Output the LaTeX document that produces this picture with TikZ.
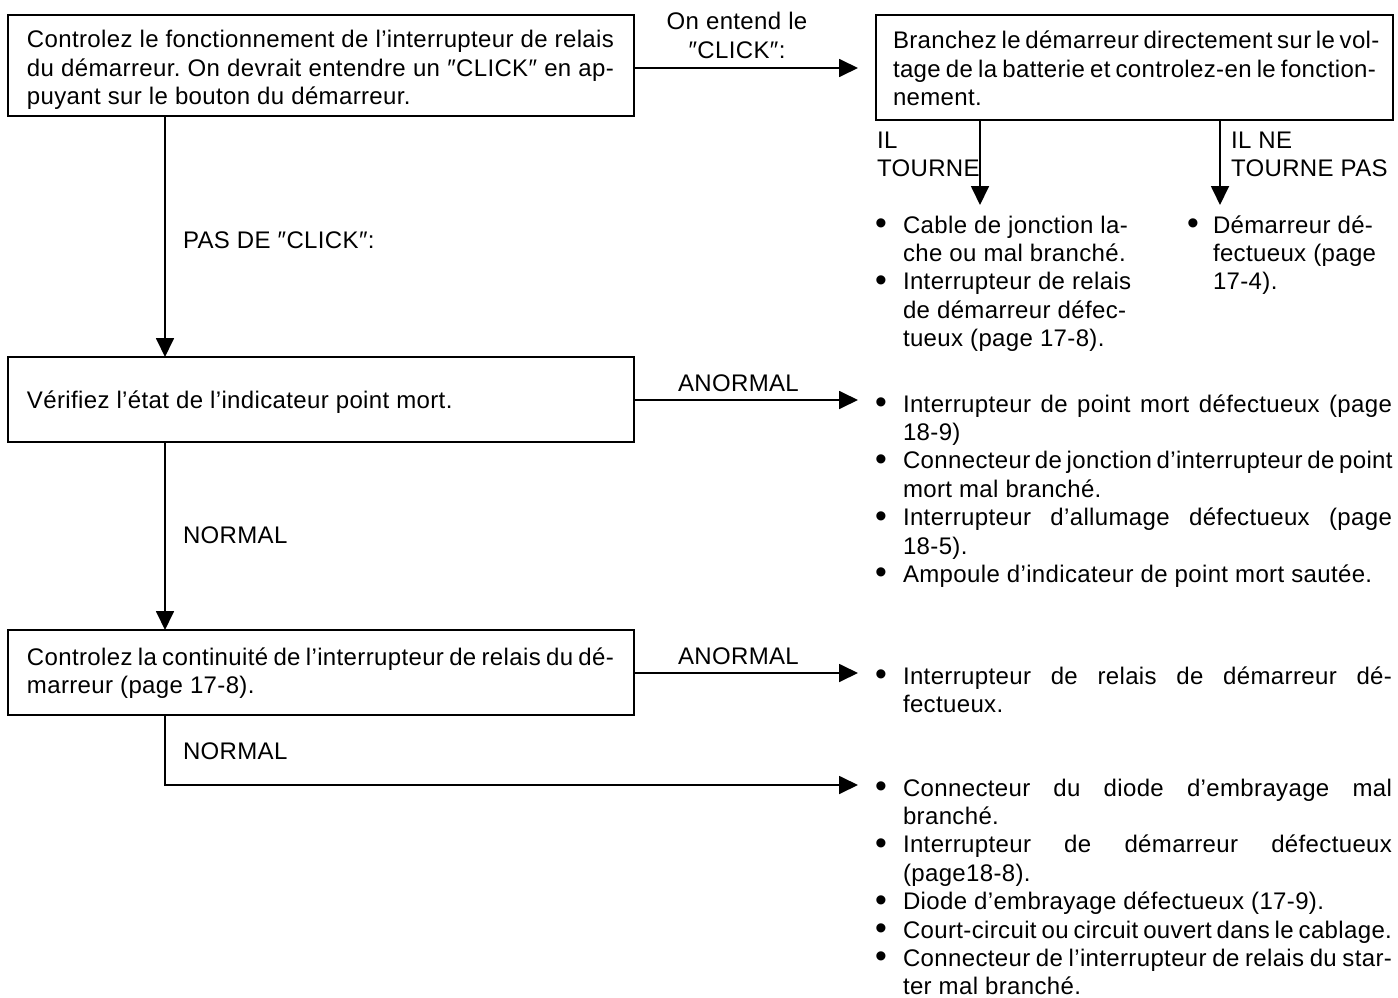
\documentclass[tikz,border=0pt]{standalone}
\usepackage{fontspec}
\setmainfont[LetterSpace=1.5]{Liberation Sans}
\usepackage{graphicx}
\usetikzlibrary{arrows.meta}
\frenchspacing
\newcommand\VL[1]{\vtop{\halign{##\hfil\cr#1\crcr}}}
\newcommand\VC[1]{\vtop{\halign{\hfil##\hfil\cr#1\crcr}}}
\newcommand\J[2]{\hbox to #1{#2}}
\newcommand\Bu[1][28pt]{\makebox[#1][l]{\raisebox{-1.5pt}{\scalebox{1.4}{\textbullet}}}}
\newcommand\In[1][28pt]{\hspace*{#1}}
\newcommand\Q{″}
\begin{document}
\begin{tikzpicture}[x=1pt,y=-1pt,
  font=\fontsize{24}{28.4}\selectfont,
  every node/.style={inner sep=0pt, outer sep=0pt},
  txt/.style={anchor=base west},
  ctxt/.style={anchor=base},
  boxst/.style={draw, line width=1.8pt, anchor=north west},
  arr/.style={line width=1.8pt, -{Triangle[length=19pt,width=18pt]}},
  ln/.style={line width=1.8pt}]
\useasboundingbox (0,0) rectangle (1398,998);
% boxes
\node[boxst, minimum width=626pt, minimum height=101pt] (b1) at (8,15) {};
\node[boxst, minimum width=517pt, minimum height=105pt] (b2) at (876,15) {};
\node[boxst, minimum width=626pt, minimum height=85pt] (b3) at (8,357) {};
\node[boxst, minimum width=626pt, minimum height=85pt] (b4) at (8,630) {};
% box texts
\node[txt] (t1) at (27,48) {\VL{\J{587pt}{Controlez le fonctionnement de l’interrupteur de relais}\cr
  \J{587pt}{du démarreur. On devrait entendre un \Q CLICK\Q{} en ap-}\cr
  puyant sur le bouton du démarreur.}};
\node[txt] (t2) at (893,49) {\VL{\J{483pt}{Branchez le démarreur directement sur le vol-}\cr
  \J{483pt}{tage de la batterie et controlez-en le fonction-}\cr
  nement.}};
\node[txt] (t3) at (27,408) {Vérifiez l’état de l’indicateur point mort.};
\node[txt] (t4) at (27,665) {\VL{\J{587pt}{Controlez la continuité de l’interrupteur de relais du dé-}\cr
  marreur (page 17-8).}};
% coordinates
\coordinate (vx) at (165,0);
\coordinate (e1) at (858,68);
\coordinate (e3) at (858,400);
\coordinate (e4) at (858,673);
\coordinate (e5) at (858,785);
\coordinate (ta) at (980,205);
\coordinate (tb) at (1220,205);
% connectors
\draw[arr] (b1.east |- e1) -- (e1);
\draw[arr] (b1.south -| vx) -- (b3.north -| vx);
\draw[arr] (b3.east |- e3) -- (e3);
\draw[arr] (b3.south -| vx) -- (b4.north -| vx);
\draw[arr] (b4.east |- e4) -- (e4);
\draw[arr] (b4.south -| vx) |- (e5);
\draw[arr] (b2.south -| ta) -- (ta);
\draw[arr] (b2.south -| tb) -- (tb);
% labels
\node[ctxt] (l1) at (737,30) {\VC{On entend le\cr \Q CLICK\Q:}};
\node[txt] (l2) at (183,248) {PAS DE \Q CLICK\Q:};
\node[txt] (l3) at (183,543) {NORMAL};
\node[txt] (l4) at (183,759) {NORMAL};
\node[txt] (l5) at (678,391) {ANORMAL};
\node[txt] (l6) at (678,664) {ANORMAL};
\node[txt] (l7) at (877,148) {\VL{IL\cr TOURNE}};
\node[txt] (l8) at (1231,148) {\VL{IL NE\cr TOURNE PAS}};
% lists
\node[txt] (la) at (875,233) {\VL{\Bu Cable de jonction la-\cr
  \In che ou mal branché.\cr
  \Bu Interrupteur de relais\cr
  \In de démarreur défec-\cr
  \In tueux (page 17-8).}};
\node[txt] (lb) at (1187,233) {\VL{\Bu[26pt]Démarreur dé-\cr
  \In[26pt]fectueux (page\cr
  \In[26pt]17-4).}};
\node[txt] (lc) at (875,412) {\VL{\J{517pt}{\Bu Interrupteur de point mort défectueux (page}\cr
  \In 18-9)\cr
  \J{517pt}{\Bu Connecteur de jonction d’interrupteur de point}\cr
  \In mort mal branché.\cr
  \J{517pt}{\Bu Interrupteur d’allumage défectueux (page}\cr
  \In 18-5).\cr
  \Bu Ampoule d’indicateur de point mort sautée.}};
\node[txt] (ld) at (875,684) {\VL{\J{517pt}{\Bu Interrupteur de relais de démarreur dé-}\cr
  \In fectueux.}};
\node[txt] (le) at (875,796) {\VL{\J{517pt}{\Bu Connecteur du diode d’embrayage mal}\cr
  \In branché.\cr
  \J{517pt}{\Bu Interrupteur de démarreur défectueux}\cr
  \In (page18-8).\cr
  \Bu Diode d’embrayage défectueux (17-9).\cr
  \J{517pt}{\Bu Court-circuit ou circuit ouvert dans le cablage.}\cr
  \J{517pt}{\Bu Connecteur de l’interrupteur de relais du star-}\cr
  \In ter mal branché.}};
\end{tikzpicture}
\end{document}
